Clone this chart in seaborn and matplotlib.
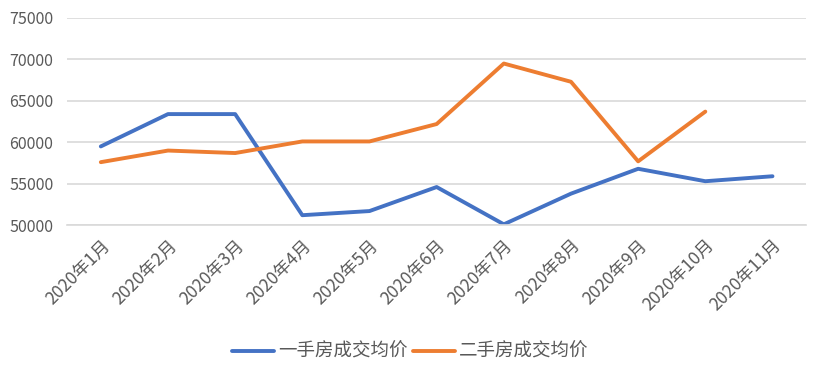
import pandas as pd
import numpy as np
import seaborn as sns
import matplotlib.pyplot as plt
from matplotlib.ticker import FixedLocator

months = ['2020年1月', '2020年2月', '2020年3月', '2020年4月', '2020年5月', '2020年6月',
          '2020年7月', '2020年8月', '2020年9月', '2020年10月', '2020年11月']
new_home = [59500, 63400, 63400, 51200, 51700, 54600, 50100, 53800, 56800, 55300, 55900]
second_home = [57600, 59000, 58700, 60100, 60100, 62200, 69500, 67300, 57700, 63700, np.nan]
series_names = ['一手房成交均价', '二手房成交均价']
colors = ['#4472C4', '#ED7D31']

df = pd.DataFrame({
    'x': list(range(len(months))) * 2,
    'value': new_home + second_home,
    'series': [series_names[0]] * len(months) + [series_names[1]] * len(months),
})

sns.set_style('white')
plt.rcParams['font.family'] = ['Noto Sans CJK SC', 'DejaVu Sans']
plt.rcParams['font.weight'] = 'light'
text_color = '#595959'

fig = plt.figure(figsize=(8.2, 3.74), dpi=100)
ax = fig.add_axes([0.082, 0.398, 0.901, 0.554])

sns.lineplot(data=df, x='x', y='value', hue='series', palette=colors,
             linewidth=2.8, ax=ax, legend=True, solid_capstyle='round')

ax.set_xlim(-0.5, len(months) - 0.5)
ax.set_ylim(50000, 75000)
ax.set_yticks(range(50000, 75001, 5000))
ax.yaxis.grid(True, color='#d9d9d9', linewidth=1.2)
ax.set_axisbelow(True)
for s in ['top', 'right', 'left']:
    ax.spines[s].set_visible(False)
ax.spines['bottom'].set_color('#d9d9d9')
ax.spines['bottom'].set_linewidth(1.2)

# month labels sit under each point, tick marks between categories
ax.set_xticks(range(len(months)))
ax.set_xticklabels(months, rotation=45, ha='right', rotation_mode='anchor')
ax.xaxis.set_minor_locator(FixedLocator(np.arange(-0.5, len(months), 1.0)))
ax.tick_params(axis='x', which='major', length=0, pad=8, labelsize=12.5, labelcolor=text_color)
ax.tick_params(axis='x', which='minor', length=5, width=1.2, color='#d9d9d9', direction='out')
ax.tick_params(axis='y', length=0, labelsize=11.5, labelcolor=text_color, pad=10)
ax.set_xlabel('')
ax.set_ylabel('')

handles, labels = ax.get_legend_handles_labels()
ax.legend(handles, labels, loc='center', bbox_to_anchor=(0.5, 1 - 352 / 374),
          bbox_transform=fig.transFigure, ncol=2, frameon=False, fontsize=13.3,
          handlelength=2.3, handletextpad=0.2, columnspacing=0.3, labelcolor=text_color)

fig.savefig('out.png', dpi=100)
